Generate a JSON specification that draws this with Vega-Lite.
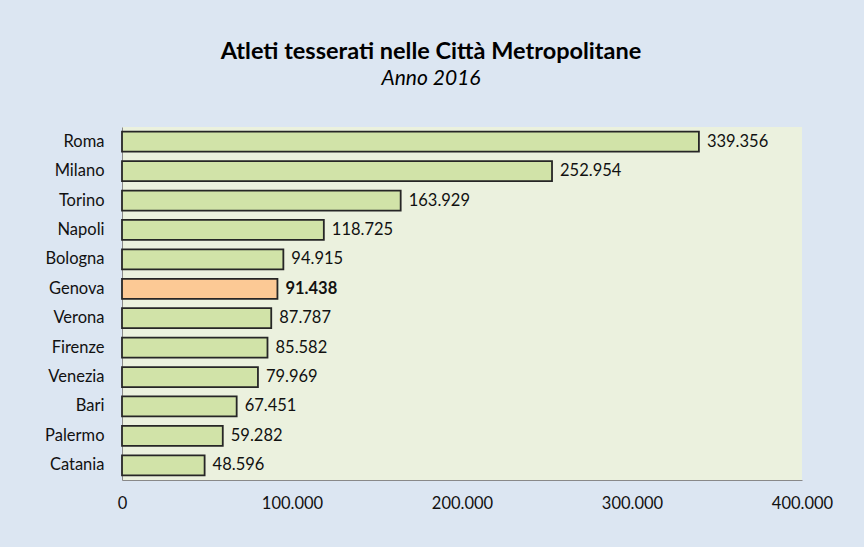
{
  "$schema": "https://vega.github.io/schema/vega-lite/v6.json",
  "width": 680,
  "height": 353,
  "autosize": {"type": "none"},
  "padding": {"left": 122, "top": 127, "right": 62, "bottom": 67},
  "background": "#DCE6F2",
  "config": {
    "font": "Lato",
    "view": {"fill": "#EBF1DE", "stroke": null},
    "locale": {"number": {"decimal": ",", "thousands": ".", "grouping": [3], "currency": ["€", ""]}}
  },
  "title": {
    "text": "Atleti tesserati nelle Città Metropolitane",
    "subtitle": "\u2003\u2003\u2003\u2002Anno 2016",
    "anchor": "middle",
    "frame": "group",
    "dx": -31,
    "offset": 38,
    "font": "Lato",
    "fontSize": 23.5,
    "fontWeight": "bold",
    "color": "#000000",
    "subtitleFont": "Lato",
    "subtitleFontSize": 21,
    "subtitleFontStyle": "italic",
    "subtitleColor": "#000000",
    "subtitlePadding": 5
  },
  "data": {
    "values": [
      {"city": "Roma", "value": 339356},
      {"city": "Milano", "value": 252954},
      {"city": "Torino", "value": 163929},
      {"city": "Napoli", "value": 118725},
      {"city": "Bologna", "value": 94915},
      {"city": "Genova", "value": 91438},
      {"city": "Verona", "value": 87787},
      {"city": "Firenze", "value": 85582},
      {"city": "Venezia", "value": 79969},
      {"city": "Bari", "value": 67451},
      {"city": "Palermo", "value": 59282},
      {"city": "Catania", "value": 48596}
    ]
  },
  "encoding": {
    "y": {
      "field": "city",
      "type": "nominal",
      "sort": null,
      "scale": {"paddingInner": 0.32, "paddingOuter": 0.16},
      "axis": {
        "title": null,
        "ticks": false,
        "domainColor": "#898989",
        "domainWidth": 1,
        "labelFont": "Lato",
        "labelFontSize": 16.5,
        "labelColor": "#111111",
        "labelPadding": 18
      }
    },
    "x": {
      "field": "value",
      "type": "quantitative",
      "scale": {"domain": [0, 400000], "nice": false},
      "axis": {
        "title": null,
        "values": [0, 100000, 200000, 300000, 400000],
        "format": ",d",
        "ticks": false,
        "grid": false,
        "domainColor": "#898989",
        "domainWidth": 1,
        "labelFont": "Lato",
        "labelFontSize": 16.5,
        "labelColor": "#111111",
        "labelPadding": 15,
        "labelFlush": false
      }
    }
  },
  "layer": [
    {
      "mark": {"type": "bar", "stroke": "#262626", "strokeWidth": 1.8},
      "encoding": {
        "color": {
          "condition": {"test": "datum.city === 'Genova'", "value": "#FCC995"},
          "value": "#D1E3A8"
        }
      }
    },
    {
      "transform": [{"filter": "datum.city !== 'Genova'"}],
      "mark": {"type": "text", "align": "left", "baseline": "middle", "dx": 8, "fontSize": 16.5, "font": "Lato", "color": "#111111"},
      "encoding": {"text": {"field": "value", "type": "quantitative", "format": ",d"}}
    },
    {
      "transform": [{"filter": "datum.city === 'Genova'"}],
      "mark": {"type": "text", "align": "left", "baseline": "middle", "dx": 8, "fontSize": 16.5, "font": "Lato", "fontWeight": "bold", "color": "#111111"},
      "encoding": {"text": {"field": "value", "type": "quantitative", "format": ",d"}}
    }
  ]
}
